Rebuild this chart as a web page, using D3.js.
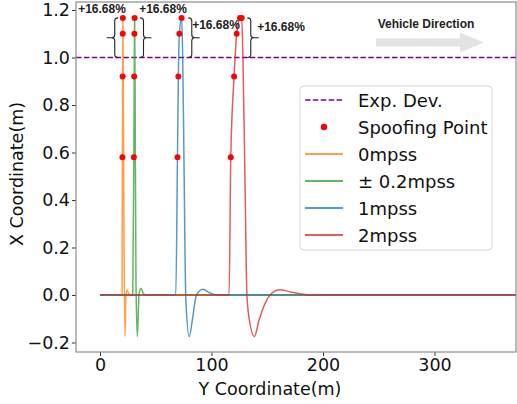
<!DOCTYPE html>
<html>
<head>
<meta charset="utf-8" />
<title>spoofing deviation</title>
<script src="https://cdn.jsdelivr.net/npm/d3@7/dist/d3.min.js"></script>
<style>
  body { margin: 0; background: #fff; }
  svg text { font-family: "DejaVu Sans", sans-serif; }
</style>
</head>
<body>
<svg width="517" height="404"></svg>
<script>
// ---- data ----
var seriesNames = ["0mpss", "\u00b1 0.2mpss", "1mpss", "2mpss"];
var seriesColors = ["#ff7f0e", "#2ca02c", "#1f77b4", "#d62728"];

// Y coordinate (horizontal axis) and X coordinate (vertical axis) per series
var yPos0 = [0, 19.8, 20.1, 20.3, 20.4, 20.5, 21.0, 21.6, 22.4, 23.3, 24.5, 25.8, 27.5, 380];
var xDev0 = [0, 0, 0.58, 0.92, 1.10, 1.1668, 0.80, 0.20, -0.175, 0, 0.02, 0.005, 0, 0];

var yPos1 = [0, 29.4, 30.4, 30.7, 30.9, 31.1, 31.6, 32.3, 33.5, 35.0, 36.8, 38.5, 41, 380];
var xDev1 = [0, 0, 0.58, 0.92, 1.10, 1.1668, 0.75, 0.05, -0.175, 0, 0.028, 0.01, 0, 0];

var yPos2 = [0, 68.0, 69.5, 70.3, 71.2, 73.2, 74.2, 75.5, 77.0, 80.1, 83, 86.5, 92.5, 98, 105, 380];
var xDev2 = [0, 0, 0.58, 0.92, 1.10, 1.1668, 1.0, 0.5, -0.02, -0.175, -0.1, 0, 0.024, 0.01, 0, 0];

var yPos3 = [0, 115.8, 117.3, 120.3, 122.6, 125.6, 127.1, 128.2, 130.0, 131.8, 134.5, 138.4, 143, 152.5, 161.4, 172, 190, 380];
var xDev3 = [0, 0, 0.58, 0.92, 1.10, 1.1668, 1.1668, 1.0, 0.5, 0, -0.12, -0.175, -0.1, 0, 0.022, 0.012, 0, 0];

// spoofing points
var spoofY = [20.1, 20.3, 20.4, 20.5, 30.4, 30.7, 30.9, 31.1, 69.5, 70.3, 71.2, 73.2, 117.3, 120.3, 122.6, 125.6, 127.1];
var spoofX = [0.58, 0.92, 1.10, 1.1668, 0.58, 0.92, 1.10, 1.1668, 0.58, 0.92, 1.10, 1.1668, 0.58, 0.92, 1.10, 1.1668, 1.1668];

var expDev = 1.0;
var overshootLabel = "+16.68%";
var overshootTop = 1.1668;

var xTicks = [0, 100, 200, 300];
var yTicks = [-0.2, 0.0, 0.2, 0.4, 0.6, 0.8, 1.0, 1.2];

// ---- layout ----
var svg = d3.select("svg");
var plot = {left: 76, right: 516, top: 2, bottom: 352};

var x = d3.scaleLinear().domain([-21.5, 373.1]).range([plot.left, plot.right]);
var y = d3.scaleLinear().domain([-0.24, 1.2337]).range([plot.bottom, plot.top]);

svg.append("defs").append("clipPath").attr("id", "clip")
  .append("rect")
  .attr("x", plot.left).attr("y", plot.top)
  .attr("width", plot.right - plot.left).attr("height", plot.bottom - plot.top);

var g = svg.append("g").attr("clip-path", "url(#clip)");

// expected deviation line
g.append("line")
  .attr("x1", plot.left).attr("x2", plot.right)
  .attr("y1", y(expDev)).attr("y2", y(expDev))
  .attr("stroke", "purple").attr("stroke-width", 1.3)
  .attr("stroke-dasharray", "5.5,2.4");

var line = d3.line()
  .x(function(d){ return x(d[0]); })
  .y(function(d){ return y(d[1]); })
  .curve(d3.curveMonotoneX);

var series = [[yPos0, xDev0], [yPos1, xDev1], [yPos2, xDev2], [yPos3, xDev3]];
series.forEach(function(s, i){
  var pts = s[0].map(function(v, j){ return [v, s[1][j]]; });
  g.append("path")
    .datum(pts)
    .attr("d", line)
    .attr("fill", "none")
    .attr("stroke", seriesColors[i])
    .attr("stroke-opacity", 0.75)
    .attr("stroke-width", 1.5);
});

// spoofing dots
g.selectAll(".spoof")
  .data(spoofY)
  .enter().append("circle")
  .attr("class", "spoof")
  .attr("cx", function(d){ return x(d); })
  .attr("cy", function(d, i){ return y(spoofX[i]); })
  .attr("r", 3)
  .attr("fill", "red");

// ---- braces with overshoot labels ----
// side: -1 opens to the left "{", +1 opens to the right "}"
var braces = [
  {at: 16.4, side: -1, lx: 102, ly: 12.5},
  {at: 35.9, side: 1, lx: 163, ly: 12.5},
  {at: 79.2, side: 1, lx: 216, ly: 29},
  {at: 132.1, side: 1, lx: 281, ly: 31}
];
braces.forEach(function(b){
  var x0 = x(b.at), s = b.side;
  var y1 = y(overshootTop), y2 = y(expDev), ym = (y1 + y2) / 2;
  var xv = x0 + s * 3.5, r = 3;
  var p = d3.path();
  p.moveTo(x0, y1);
  p.quadraticCurveTo(xv, y1, xv, y1 + r);
  p.lineTo(xv, ym - r);
  p.quadraticCurveTo(xv, ym, xv + s * 3, ym);
  p.quadraticCurveTo(xv, ym, xv, ym + r);
  p.lineTo(xv, y2 - r);
  p.quadraticCurveTo(xv, y2, x0, y2);
  p.moveTo(xv + s * 3, ym);
  p.lineTo(xv + s * 8, ym);
  svg.append("path").attr("d", p.toString())
    .attr("fill", "none").attr("stroke", "#222").attr("stroke-width", 1.1);
  svg.append("text")
    .attr("x", b.lx).attr("y", b.ly)
    .attr("text-anchor", "middle")
    .style("font-family", "'Liberation Sans', Arial, sans-serif")
    .style("font-weight", "bold").style("font-size", "12px")
    .attr("fill", "#222")
    .text(overshootLabel);
});

// vehicle direction arrow
svg.append("path")
  .attr("d", "M376,38.5 L460,38.5 L460,32.5 L484,42.5 L460,52.5 L460,46.5 L376,46.5 Z")
  .attr("fill", "#e3e3e3");
svg.append("text")
  .attr("x", 426).attr("y", 28)
  .attr("text-anchor", "middle")
  .style("font-family", "'Liberation Sans', Arial, sans-serif")
  .style("font-weight", "bold").style("font-size", "12px")
  .attr("fill", "#222")
  .text("Vehicle Direction");

// ---- axes ----
var xAxis = d3.axisBottom(x).tickValues(xTicks).tickSize(4).tickPadding(3).tickFormat(d3.format("d"));
var yAxis = d3.axisLeft(y).tickValues(yTicks).tickSize(4).tickPadding(2).tickFormat(d3.format(".1f"));

var gx = svg.append("g").attr("transform", "translate(0," + plot.bottom + ")").call(xAxis);
var gy = svg.append("g").attr("transform", "translate(" + plot.left + ",0)").call(yAxis);
[gx, gy].forEach(function(a){
  a.select(".domain").remove();
  a.selectAll("text").style("font-size", "17.5px").style("font-family", "'DejaVu Sans', sans-serif").attr("fill", "#111");
  a.selectAll(".tick line").attr("stroke", "#333");
});

// frame
svg.append("rect")
  .attr("x", plot.left).attr("y", plot.top)
  .attr("width", plot.right - plot.left).attr("height", plot.bottom - plot.top)
  .attr("fill", "none").attr("stroke", "#8c8c8c").attr("stroke-width", 1.2);

svg.append("text")
  .attr("x", 270).attr("y", 395)
  .attr("text-anchor", "middle")
  .style("font-size", "17.5px").attr("fill", "#111")
  .text("Y Coordinate(m)");
svg.append("text")
  .attr("transform", "translate(23,174) rotate(-90)")
  .attr("text-anchor", "middle")
  .style("font-size", "17.5px").attr("fill", "#111")
  .text("X Coordinate(m)");

// ---- legend ----
var lg = svg.append("g").attr("transform", "translate(300,86)");
lg.append("rect")
  .attr("width", 192).attr("height", 164).attr("rx", 4)
  .attr("fill", "white").attr("fill-opacity", 0.85)
  .attr("stroke", "#d9d9d9");
var legendItems = [
  {label: "Exp. Dev.", kind: "dash", color: "purple"},
  {label: "Spoofing Point", kind: "dot", color: "red"}
].concat(seriesNames.map(function(n, i){ return {label: n, kind: "line", color: seriesColors[i]}; }));

var rows = lg.selectAll(".item").data(legendItems).enter().append("g")
  .attr("transform", function(d, i){ return "translate(0," + (14 + i * 27) + ")"; });
rows.filter(function(d){ return d.kind !== "dot"; }).append("line")
  .attr("x1", 5).attr("x2", 43).attr("y1", 0).attr("y2", 0)
  .attr("stroke", function(d){ return d.color; })
  .attr("stroke-width", 1.6)
  .attr("stroke-dasharray", function(d){ return d.kind === "dash" ? "5.5,2.4" : null; });
rows.filter(function(d){ return d.kind === "dot"; }).append("circle")
  .attr("cx", 24).attr("cy", 0).attr("r", 3.2).attr("fill", "red");
rows.append("text")
  .attr("x", 58).attr("y", 6.5)
  .style("font-size", "18px").attr("fill", "#111")
  .text(function(d){ return d.label; });
</script>
</body>
</html>
